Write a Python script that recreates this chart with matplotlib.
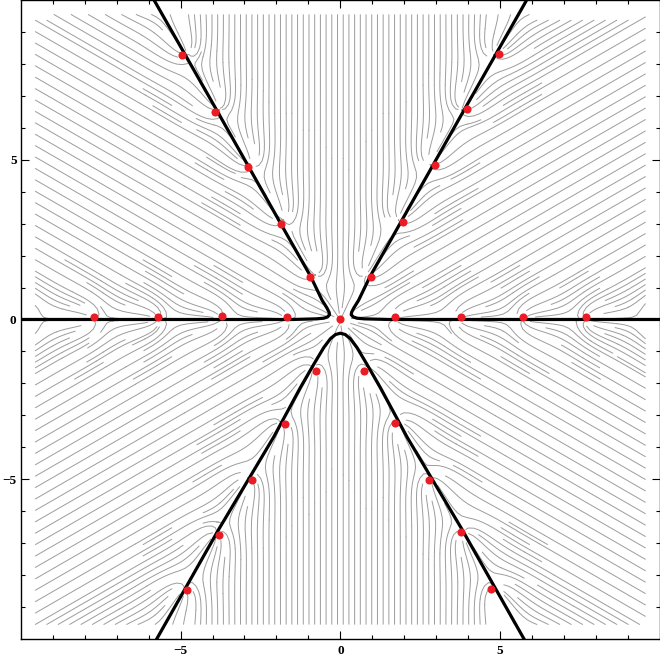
import numpy as np
import matplotlib
matplotlib.use("Agg")
import matplotlib.pyplot as plt

# ---------------- data ----------------
# red points (zeros)
zero_x = [-4.95, -3.92, -2.88, -1.85, -0.94,
          4.95, 3.95, 2.95, 1.97, 0.97,
          -7.71, -5.70, -3.70, -1.66,
          1.72, 3.76, 5.70, 7.68,
          0.0,
          -0.75, -1.72, -2.75, -3.79, -4.79,
          0.75, 1.72, 2.78, 3.76, 4.72]
zero_y = [8.27, 6.50, 4.78, 3.00, 1.34,
          8.30, 6.59, 4.84, 3.06, 1.34,
          0.09, 0.09, 0.12, 0.09,
          0.09, 0.09, 0.09, 0.09,
          0.0,
          -1.60, -3.28, -5.03, -6.75, -8.47,
          -1.60, -3.25, -5.03, -6.66, -8.44]

# black curves (traced)
ul_x = [-6.0, -3.8, -1.6, -0.93, -0.57, -0.42, -0.35, -0.34, -0.40, -0.52, -0.75, -1.5, -10.5]
ul_y = [10.3, 6.43, 2.53, 1.35, 0.60, 0.36, 0.22, 0.15, 0.08, 0.04, 0.02, 0.0, 0.0]
ur_x = [6.0, 3.8, 1.6, 0.93, 0.57, 0.42, 0.35, 0.34, 0.40, 0.52, 0.75, 1.5, 10.5]
ur_y = [10.3, 6.43, 2.53, 1.35, 0.60, 0.36, 0.22, 0.15, 0.08, 0.04, 0.02, 0.0, 0.0]
lo_x = [-6.0, -3.8, -2.08, -1.25, -0.83, -0.52, -0.31, -0.15, 0.0,
        0.15, 0.31, 0.52, 0.83, 1.25, 2.08, 3.8, 6.0]
lo_y = [-10.45, -6.56, -3.67, -2.13, -1.40, -0.88, -0.60, -0.47, -0.43,
        -0.47, -0.60, -0.88, -1.40, -2.13, -3.67, -6.56, -10.45]

# streamline field: sector directions (deg) and zero-ray offsets
sector_angles = [30, 90, 150, 210, 270, 330]
ray_offsets = [1.6, 1.6, 1.7, 1.72, 1.7, 1.68]   # rays at 60,120,180,240,300,0 deg
stream_extent = 9.55

tick_major = [-5, 0, 5]
tick_labels = ["\u22125", "0", "5"]
tick_minor = [t for t in range(-10, 11) if t % 5 != 0]

# ---------------- vector field (Newton flow of exponential sum) ----------------
a = np.pi * np.exp(-1j * np.deg2rad(sector_angles))
c = [1.0 + 0j]
for d in ray_offsets[:-1]:
    c.append(c[-1] * np.exp(1j * np.pi * (d + 1)))
c = np.array(c)

g = np.linspace(-stream_extent, stream_extent, 500)
X, Y = np.meshgrid(g, g)
Z = X + 1j * Y
f = np.zeros_like(Z)
fp = np.zeros_like(Z)
for ck, ak in zip(c, a):
    e = np.exp(ak * Z)
    f += ck * (e - 1)
    fp += ck * ak * e
N = f / fp
mag = np.abs(N)
mag[mag == 0] = 1
U = (N.real / mag)
V = (N.imag / mag)

# ---------------- figure ----------------
fig = plt.figure(figsize=(6.6, 6.59), dpi=100)
ax = fig.add_axes([0.0314, 0.0304, 0.9686, 0.9696])
ax.streamplot(X, Y, U, V, density=3.6, color="#9c9c9c", linewidth=0.7,
              arrowstyle="-", arrowsize=0.01, minlength=0.05, zorder=1)

ax.plot(ul_x, ul_y, color="black", lw=2.3, zorder=3, solid_capstyle="butt")
ax.plot(ur_x, ur_y, color="black", lw=2.3, zorder=3, solid_capstyle="butt")
ax.plot(lo_x, lo_y, color="black", lw=2.3, zorder=3, solid_capstyle="butt")
ax.scatter(zero_x, zero_y, s=34, color="#ea1c24", zorder=4, linewidths=0)

ax.set_xlim(-10, 10)
ax.set_ylim(-10, 10)
ax.set_xticks(tick_major)
ax.set_yticks(tick_major)
ax.set_xticklabels(tick_labels)
ax.set_yticklabels(tick_labels)
ax.set_xticks(tick_minor, minor=True)
ax.set_yticks(tick_minor, minor=True)
ax.tick_params(which="both", direction="in", top=True, right=True, width=0.8)
ax.tick_params(which="major", length=5.5)
ax.tick_params(which="minor", length=3.2)
ax.tick_params(axis="x", pad=4)
ax.tick_params(axis="y", pad=3)
for lab in ax.get_xticklabels() + ax.get_yticklabels():
    lab.set_fontfamily("Liberation Serif")
    lab.set_fontweight("bold")
    lab.set_fontsize(9.5)
for s in ax.spines.values():
    s.set_linewidth(1.0)

fig.savefig("out.png", dpi=100)
